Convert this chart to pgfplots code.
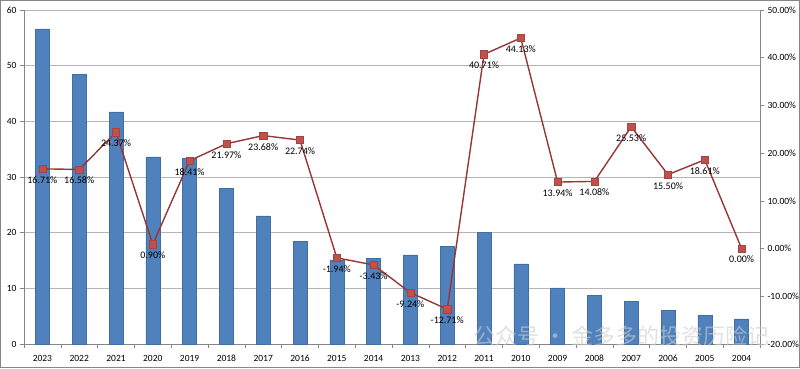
\documentclass[border=0pt]{standalone}
\usepackage{pgfplots}
\pgfplotsset{compat=1.18}
\usepackage{pgfplotstable}
\usepackage{fontspec}
\setmainfont{Carlito}
\newfontfamily\cjk{Noto Sans CJK SC}
\definecolor{barblue}{RGB}{79,129,189}
\definecolor{linered}{RGB}{150,55,53}
\definecolor{markred}{RGB}{192,80,77}
\definecolor{gridc}{RGB}{180,180,180}
\definecolor{axc}{RGB}{134,134,134}

\pgfplotstableread{
x y
0 56.6
1 48.5
2 41.7
3 33.6
4 33.4
5 28.0
6 23.0
7 18.5
8 15.1
9 15.4
10 16.0
11 17.6
12 20.1
13 14.4
14 10.1
15 8.8
16 7.7
17 6.1
18 5.2
19 4.5
}\bars

\pgfplotstableread{
x y
0 16.71
1 16.58
2 24.37
3 0.90
4 18.41
5 21.97
6 23.68
7 22.74
8 -1.94
9 -3.43
10 -9.24
11 -12.71
12 40.71
13 44.13
14 13.94
15 14.08
16 25.53
17 15.50
18 18.61
19 0.00
}\growth

\begin{document}
\begin{tikzpicture}[x=1pt,y=1pt]
\useasboundingbox (0,0) rectangle (800,368);
\draw[axc, line width=1.2pt] (0.6,0.6) rectangle (799.4,367.4);
\begin{axis}[
  at={(24pt,24pt)}, anchor=south west,
  scale only axis, width=736pt, height=334pt,
  xmin=-0.5, xmax=19.5, ymin=0, ymax=60,
  axis x line*=bottom, axis y line*=left,
  axis line style={axc, line width=0.6pt},
  xtick={0,...,19},
  xticklabels={2023,2022,2021,2020,2019,2018,2017,2016,2015,2014,2013,2012,2011,2010,2009,2008,2007,2006,2005,2004},
  major x tick style={draw=none},
  minor xtick={-0.5,0.5,...,19.5},
  minor x tick style={axc, line width=0.6pt},
  minor tick length=4pt,
  ytick={0,10,...,60},
  ymajorgrids, major grid style={gridc, line width=0.8pt},
  y tick style={axc, line width=0.6pt},
  major tick length=4pt,
  tick align=outside,
  tick label style={font=\fontsize{9.5}{10}\selectfont, text=black},
  xticklabel style={anchor=north, text height=6.5pt, text depth=0pt, yshift=-3pt},
  /pgf/number format/assume math mode=true,
]
\addplot[ybar, bar width=14pt, fill=barblue, draw=barblue!85!black, line width=0.3pt] table[x=x,y=y] {\bars};
\end{axis}
\begin{axis}[
  at={(24pt,24pt)}, anchor=south west,
  scale only axis, width=736pt, height=334pt,
  xmin=-0.5, xmax=19.5, ymin=-20, ymax=50,
  axis y line*=right, axis x line=none,
  axis line style={axc, line width=0.6pt},
  ytick={-20,-10,...,50},
  y tick style={axc, line width=0.6pt},
  major tick length=4pt,
  tick align=outside,
  yticklabel={\pgfmathprintnumber[fixed,fixed zerofill,precision=2]{\tick}\%},
  tick label style={font=\fontsize{9.5}{10}\selectfont, text=black},
  /pgf/number format/assume math mode=true,
]
\addplot[linered, line width=1.4pt, mark=square*, mark size=3.6pt,
  mark options={fill=markred, draw=markred!85!black, line width=0.5pt},
  nodes near coords={\pgfmathprintnumber[fixed,fixed zerofill,precision=2,assume math mode=true]{\pgfplotspointmeta}\%},
  point meta=y,
  every node near coord/.append style={anchor=north, yshift=-4pt, font=\fontsize{10}{11}\selectfont, text=black}]
  table[x=x,y=y] {\growth};
\end{axis}
\node[anchor=west, text=gray!40, opacity=0.6, font=\cjk\fontsize{22}{24}\selectfont] at (470,32) {公众号 · 金多多的投资历险记};
\end{tikzpicture}
\end{document}
